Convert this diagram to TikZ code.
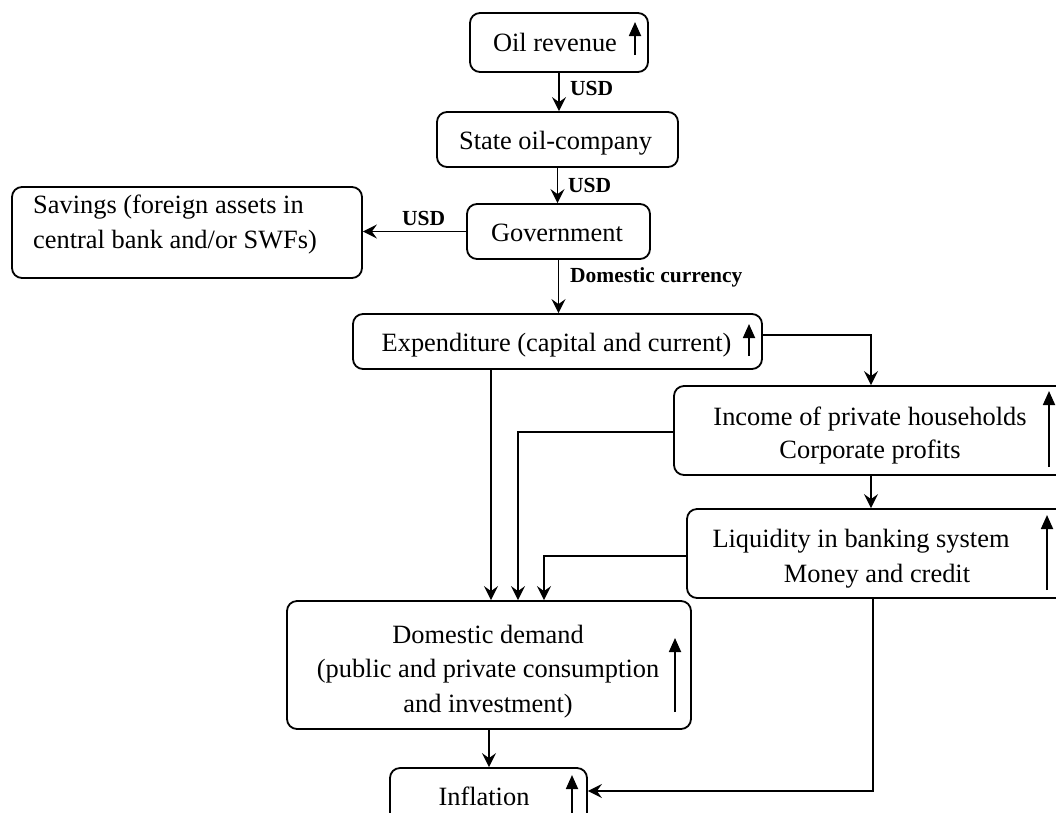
\documentclass[tikz,border=0pt]{standalone}
\usepackage{fontspec}
\setmainfont{Liberation Serif}
\usetikzlibrary{arrows.meta}
\begin{document}
\begin{tikzpicture}[x=1pt,y=-1pt,
  box/.style={draw, line width=1.8pt, rounded corners=10pt, inner sep=0pt},
  txt/.style={inner sep=0pt, anchor=base, font=\fontsize{26.4}{35}\selectfont},
  txtl/.style={inner sep=0pt, anchor=base west, font=\fontsize{26.4}{35}\selectfont},
  lbl/.style={inner sep=0pt, anchor=base west, font=\fontsize{21.5}{26}\selectfont\bfseries},
  conn/.style={line width=1.8pt, -{Stealth[length=14pt,width=14pt,inset=5pt]}},
  uparr/.style={line width=1.8pt, -{Triangle[length=14pt,width=12pt]}}]
\useasboundingbox (0,0) rectangle (1056,812);

% boxes
\node[box, minimum width=178pt, minimum height=59pt] (oil) at (559,42.5) {};
\node[box, minimum width=241pt, minimum height=55pt] (state) at (557.5,139.5) {};
\node[box, minimum width=183pt, minimum height=55pt] (gov) at (558.5,231.5) {};
\node[box, minimum width=350pt, minimum height=91pt] (sav) at (187,232.5) {};
\node[box, minimum width=409pt, minimum height=55pt] (exp) at (557.5,341.5) {};
\node[box, minimum width=394pt, minimum height=89pt] (inc) at (871,430.5) {};
\node[box, minimum width=383pt, minimum height=89pt] (liq) at (878.5,553.5) {};
\node[box, minimum width=404pt, minimum height=128pt] (dd) at (489,665) {};
\node[box, minimum width=197pt, minimum height=82pt] (infl) at (488.5,809) {};

% texts
\node[txt] (toil) at (555,51) {Oil revenue};
\node[txt] (tstate) at (555.5,149) {State oil-company};
\node[txt] (tgov) at (557,241) {Government};
\node[txtl] (tsav1) at (33,213) {Savings (foreign assets in};
\node[txtl] (tsav2) at (33,248) {central bank and/or SWFs)};
\node[txt] (texp) at (556.5,351) {Expenditure (capital and current)};
\node[txt] (tinc1) at (870,425) {Income of private households};
\node[txt] (tinc2) at (870,458) {Corporate profits};
\node[txt] (tliq1) at (861,547) {Liquidity in banking system};
\node[txt] (tliq2) at (877,582) {Money and credit};
\node[txt] (tdd1) at (488,643) {Domestic demand};
\node[txt] (tdd2) at (488,677) {(public and private consumption};
\node[txt] (tdd3) at (488,712) {and investment)};
\node[txt] (tinfl) at (484,805) {Inflation};

% labels
\node[lbl] (l1) at (570,95) {USD};
\node[lbl] (l2) at (568,192) {USD};
\node[lbl] (l3) at (402,225) {USD};
\node[lbl] (l4) at (570,282) {Domestic currency};

% up arrows
\draw[uparr] (635,55) -- (635,22);
\draw[uparr] (749,356) -- (749,324);
\draw[uparr] (1049,467) -- (1049,391);
\draw[uparr] (1047,590) -- (1047,515);
\draw[uparr] (675,712) -- (675,638);
\draw[uparr] (572,815) -- (572,775);

% connectors
\coordinate (c1) at (871,335);
\coordinate (c2) at (518,432);
\coordinate (c3) at (544,556);
\coordinate (c4) at (491,0);
\coordinate (c5) at (873,791);
\draw[conn] (oil.south) -- (oil.south |- state.north);
\draw[conn] (state.south) -- (state.south |- gov.north);
\draw[conn] (gov.west) -- (gov.west -| sav.east);
\draw[conn] (gov.south) -- (gov.south |- exp.north);
\draw[conn] (exp.east |- c1) -| (inc.north);
\draw[conn] (inc.south) -- (inc.south |- liq.north);
\draw[conn] (inc.west |- c2) -- (c2) -- (c2 |- dd.north);
\draw[conn] (liq.west |- c3) -- (c3) -- (c3 |- dd.north);
\draw[conn] (exp.south -| c4) -- (c4 |- dd.north);
\draw[conn] (dd.south) -- (dd.south |- infl.north);
\draw[conn] (liq.south -| c5) -- (c5) -- (c5 -| infl.east);
\end{tikzpicture}
\end{document}
